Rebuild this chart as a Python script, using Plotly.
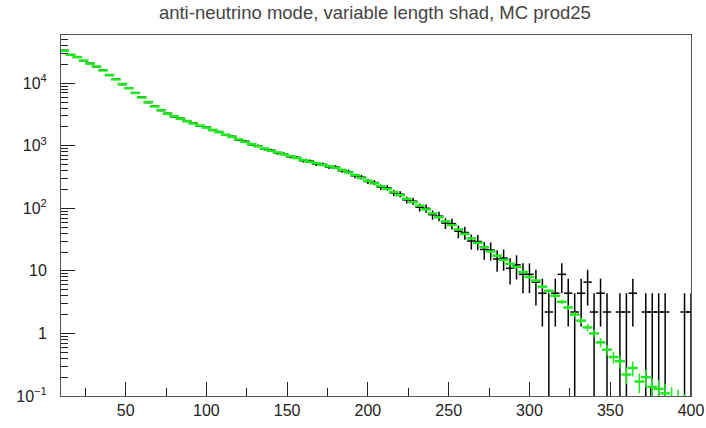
import plotly.graph_objects as go
import math

# ---- data ----
bin_low = 10
bin_width = 4
title_text = "anti-neutrino mode, variable length shad, MC prod25"

mc_values = [
    33000, 28500, 26000, 23000, 20500, 18500, 16000, 13500, 11500, 9700,
    8300, 7000, 5900, 5000, 4250, 3700, 3250, 2950, 2700, 2480,
    2260, 2100, 1950, 1790, 1640, 1500, 1380, 1260, 1150, 1060,
    980, 900, 830, 780, 730, 680, 635, 590, 555, 525,
    495, 468, 445, 410, 375, 340, 305, 275, 250, 226,
    204, 182, 162, 142, 125, 110, 96, 83, 72, 62,
    54, 46, 39, 33, 28, 24, 20.5, 17.5, 15, 13,
    11.5, 9.6, 8.0, 7.0, 5.6, 4.8, 4.0, 3.2, 2.6, 2.0,
    1.6, 1.25, 1.0, 0.72, 0.55, 0.42, 0.36, 0.22, 0.28, 0.17,
    0.2, 0.14, 0.13, 0.11, 0.095, 0.085, 0.07, 0.06,
]

data_values = [
    33500, 28000, 26500, 22800, 20900, 18200, 16300, 13300, 11700, 9500,
    8450, 6900, 6000, 4900, 4350, 3650, 3300, 2900, 2750, 2450,
    2300, 2060, 1990, 1760, 1680, 1470, 1410, 1230, 1180, 1040,
    1000, 880, 850, 760, 745, 665, 650, 575, 570, 510,
    505, 455, 458, 398, 385, 330, 315, 268, 258, 218,
    212, 176, 168, 136, 130, 104, 100, 79, 75, 58,
    57, 43, 41, 30, 29.5, 22, 21.5, 15.5, 16, 11,
    12.5, 8.8, 8.8, 6.6, 4.4, 2.2, 4.4, 8.8, 4.4, 2.2,
    4.4, 6.6, 2.2, 4.4, 2.2, None, 2.2, 2.2, 4.4, None,
    2.2, 2.2, 2.2, 2.2, None, None, 2.2, 2.2,
]

data_weight = 2.2   # per-event weight of the data histogram
mc_weight = 0.02    # per-event weight of the MC histogram

y_tickvals = [0.1, 1, 10, 100, 1000, 10000]
y_ticktext = ["10<sup>\u22121</sup>", "1", "10", "10<sup>2</sup>", "10<sup>3</sup>", "10<sup>4</sup>"]

# ---- derived ----
centers = [bin_low + bin_width * (k + 0.5) for k in range(len(mc_values))]

def err_pair(vals, w):
    plus, minus = [], []
    for v in vals:
        if v is None:
            plus.append(None); minus.append(None); continue
        e = math.sqrt(v * w)
        plus.append(e)
        minus.append(min(e, v * 0.99999))
    return plus, minus

d_plus, d_minus = err_pair(data_values, data_weight)
m_plus, m_minus = err_pair(mc_values, mc_weight)

minor_y = [m * 10 ** d for d in range(-1, 5) for m in range(2, 10)]

fig = go.Figure()
fig.add_trace(go.Scatter(
    x=centers, y=data_values, mode="markers",
    marker=dict(symbol="line-ew-open", size=6, color="black",
                line=dict(color="black", width=1.5)),
    error_y=dict(type="data", array=d_plus, arrayminus=d_minus,
                 symmetric=False, color="black", thickness=1.5, width=0),
    showlegend=False, cliponaxis=True, hoverinfo="skip",
))
fig.add_trace(go.Scatter(
    x=centers, y=mc_values, mode="markers",
    marker=dict(symbol="line-ew-open", size=7, color="#1ee81e",
                line=dict(color="#1ee81e", width=2.5)),
    error_y=dict(type="data", array=m_plus, arrayminus=m_minus,
                 symmetric=False, color="#1ee81e", thickness=1.5, width=0),
    showlegend=False, cliponaxis=True, hoverinfo="skip",
))

tick_font = dict(family="Liberation Sans, Arial", size=16, color="#222")

fig.update_layout(
    width=706, height=428,
    margin=dict(l=61, r=15, t=35, b=32, autoexpand=False),
    paper_bgcolor="white", plot_bgcolor="white",
    title=dict(text=title_text, x=0.531, xanchor="center", y=0.986, yanchor="top",
               font=dict(family="Liberation Sans, Arial", size=18.5, color="#444")),
)
fig.update_xaxes(
    range=[10, 400], tick0=0, dtick=50, ticks="inside", ticklen=14, tickwidth=1,
    tickcolor="#222", showgrid=False, zeroline=False, automargin=False,
    showline=True, linecolor="#555", linewidth=1, mirror=True,
    minor=dict(ticks="inside", ticklen=8, dtick=25, tick0=0, tickcolor="#222", showgrid=False),
    tickfont=tick_font, ticklabelstandoff=0, ticklabeloverflow="allow",
)
fig.update_yaxes(
    type="log", range=[-1, 4.77], tickvals=y_tickvals, ticktext=y_ticktext,
    ticks="inside", ticklen=14, tickwidth=1, tickcolor="#222",
    showgrid=False, zeroline=False, automargin=False,
    showline=True, linecolor="#555", linewidth=1, mirror=True,
    minor=dict(ticks="inside", ticklen=7, tickvals=minor_y, tickcolor="#222", showgrid=False),
    tickfont=tick_font, ticklabelstandoff=10, ticklabeloverflow="allow",
)

fig.write_html(
    "out.html",
    config={"displayModeBar": False, "staticPlot": True},
    post_script="document.body.style.margin='0px';document.body.style.overflow='hidden';",
)
